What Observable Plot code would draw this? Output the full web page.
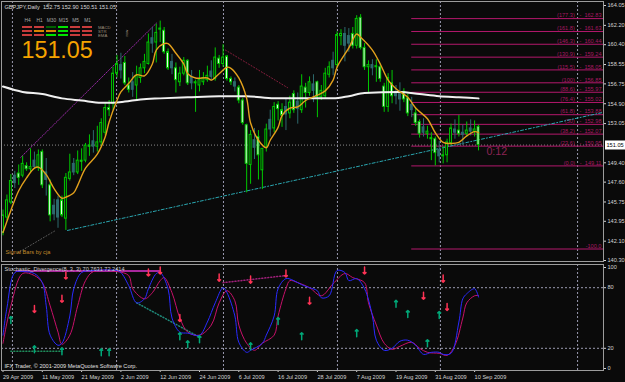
<!DOCTYPE html>
<html><head><meta charset="utf-8">
<script src="https://cdn.jsdelivr.net/npm/d3@7"></script>
<script src="https://cdn.jsdelivr.net/npm/@observablehq/plot@0.6"></script>
<style>
html,body{margin:0;padding:0;background:#0a0a0a;}
#chart{position:relative;width:625px;height:382px;overflow:hidden;background:#0a0a0a;}
#chart svg{position:absolute;left:0;}
</style></head><body><div id="chart"></div>
<script>
// ---------------- data ----------------
const symbol = "GBPJPY";
const timeframe = "Daily";
const opens  = [142.9,144.3,145.7,147.5,148.4,148.2,149.1,148.8,149.0,148.9,150.4,147.8,147.3,144.6,145.9,145.9,144.2,147.9,148.5,148.5,149.6,149.6,151.0,150.9,150.9,151.3,152.2,154.5,154.9,157.7,158.5,158.7,156.6,156.2,156.6,157.3,158.2,158.6,160.5,160.6,161.8,161.7,159.7,158.2,158.2,156.9,157.7,158.9,156.8,156.8,156.6,156.9,157.1,157.4,157.2,159.1,158.6,159.3,157.2,156.9,156.4,155.2,152.9,149.2,151.5,151.8,148.7,150.8,152.5,152.6,154.8,154.3,153.9,154.0,155.8,154.4,154.3,156.4,155.9,156.7,156.9,155.5,155.6,157.6,158.2,158.5,161.2,161.4,160.5,161.4,160.3,162.9,160.1,158.3,158.5,158.3,158.3,156.5,154.6,156.8,155.6,155.8,156.0,155.4,154.3,154.0,153.2,152.2,152.1,151.6,151.6,150.6,150.0,150.1,151.2,152.5,152.4,152.2,152.1,152.3,152.3,152.75];
const highs  = [145.0,146.4,148.3,148.6,149.2,150.0,149.4,150.7,150.4,150.6,150.6,149.8,147.8,146.0,146.3,146.3,148.4,150.2,149.8,150.5,150.7,151.2,152.0,152.4,152.8,153.5,154.9,155.2,158.3,159.4,159.6,159.3,157.3,157.8,158.4,158.6,159.5,161.4,162.0,162.3,162.6,162.0,160.0,159.5,158.7,158.3,159.2,159.0,158.0,157.1,158.0,157.8,158.4,158.9,160.1,159.4,160.4,159.4,157.4,157.3,156.6,155.4,153.0,152.4,152.6,152.4,150.7,153.0,154.3,155.0,155.1,154.9,155.3,155.6,156.1,155.9,157.6,156.8,157.4,157.6,157.0,156.6,158.2,158.8,159.7,161.6,161.8,162.0,161.9,162.0,163.1,163.2,160.5,158.9,159.0,159.0,158.6,156.8,157.7,158.0,156.6,156.85,156.3,155.8,155.5,154.5,153.4,153.5,152.8,152.2,151.8,151.4,150.9,151.6,153.0,153.4,153.8,152.9,153.2,153.4,153.3,152.90];
const lows   = [142.6,144.0,145.5,147.0,147.3,148.0,148.6,148.4,148.8,148.6,147.0,146.3,143.9,144.0,143.3,144.3,143.1,147.7,148.2,148.3,148.6,149.4,150.0,150.3,150.4,150.9,151.9,153.7,154.3,157.3,157.2,156.6,155.9,155.5,155.2,156.8,157.7,158.5,159.6,158.7,160.6,159.5,158.0,157.6,155.9,156.5,157.5,156.6,156.2,154.1,156.0,156.6,156.9,157.0,157.0,158.2,158.3,157.0,156.6,156.0,154.9,152.9,146.6,147.4,149.7,147.8,146.9,150.4,151.8,152.2,153.3,152.7,152.4,153.5,154.0,153.0,154.0,154.5,155.6,155.0,153.6,155.2,155.4,157.3,157.5,158.2,160.3,158.8,159.7,160.0,160.0,159.9,158.0,155.95,157.5,156.9,156.9,154.1,154.1,154.9,154.8,154.2,155.0,153.7,153.6,152.8,151.7,151.8,151.6,149.6,149.11,149.4,149.3,149.4,151.0,151.6,151.8,151.0,151.8,151.9,151.8,150.51];
const closes = [144.5,145.9,147.7,148.2,148.0,149.3,148.8,149.0,149.6,150.1,147.3,148.5,144.5,145.4,144.3,144.5,148.0,148.5,149.3,149.6,149.5,151.0,150.9,151.4,151.3,153.1,154.5,154.3,157.7,158.6,158.0,156.8,156.2,156.9,157.5,158.2,158.8,160.6,161.0,161.5,161.9,159.7,158.2,158.8,157.1,157.7,158.9,156.8,157.4,156.9,157.1,157.3,157.5,157.9,159.2,158.6,159.2,157.2,156.9,156.5,155.2,153.1,149.3,152.0,150.8,150.1,150.7,152.5,153.4,154.6,154.4,153.8,154.6,155.0,154.3,155.1,156.5,155.9,156.9,156.1,155.5,156.1,157.7,158.3,158.9,161.3,161.4,160.3,161.2,160.3,162.8,160.1,158.3,158.5,158.2,158.4,157.2,154.6,157.3,155.6,156.0,155.3,155.3,154.0,154.8,153.1,152.1,152.7,152.3,151.7,150.3,150.0,150.1,151.3,152.6,152.2,152.1,152.0,152.4,152.6,152.5,151.05];
const tealBars = [3,8,11,13,14,18,23,30,33,38,43,48,53,59,64,68,72,75,79,84,87,88,94,100,101,104,107,111,115,117,119];

const maFastBars   = [0,2,4,6,8,9,11,13,15,16,18,19,21,24,26,27,29,30,32,34,36,38,39,41,42,44,46,47,49,52,53,55,57,58,60,62,63,65,67,68,70,71,73,75,77,80,82,84,85,88,90,91,94,96,98,100,103,105,108,110,112,114,116,118,120,121];
const maFastValues = [142.9,144.96,146.8,148.0,148.9,149.0,148.3,147.0,146.1,146.2,146.6,147.3,148.9,150.2,151.8,153.2,155.2,156.0,156.8,157.6,157.5,158.6,159.9,160.5,160.5,159.6,158.6,157.7,157.3,157.3,157.1,157.7,158.3,158.2,157.3,155.4,153.1,151.5,150.8,151.5,152.7,153.8,154.5,154.6,155.2,155.7,156.1,157.1,158.3,160.1,161.4,161.1,159.9,158.6,157.1,156.3,155.5,154.5,153.5,152.2,151.3,151.2,151.3,151.9,152.3,152.2];
const maSlowBars   = [0,5,10,15,20,25,28,31,35,40,47,55,62,69,76,84,88,92,101,106,111,116,121];
const maSlowValues = [156.5,156.0,155.8,155.4,155.2,155.0,155.0,155.1,155.3,155.4,155.5,155.6,155.6,155.4,155.4,155.4,155.6,155.9,156.0,155.8,155.6,155.5,155.4];

const priceTicks = [164.05,162.20,160.40,158.55,156.75,154.90,153.05,149.40,147.60,145.75,143.95,142.10,140.30];
const fibLabels = ["177.3","161.8","146.3","130.9","115.5","100","88.6","76.4","61.8","50","38.2","23.6","0.0"];
const fibPrices = [162.83,161.63,160.44,159.24,158.05,156.85,155.97,155.02,153.88,152.98,152.07,150.95,149.11];
const fibExtLabel = "-100.0";
const fibExtPrice = 141.37;
const fibStartBar = 104;

// drawn price lines: [start, end] bar and price
const priceTrendBars   = [[4.5, 39.3], [56.6, 72.4], [16.4, 152.8], [3.7, 13.4]];
const priceTrendValues = [[149.9, 162.5], [159.9, 156.4], [143.1, 154.1], [141.0, 143.1]];

const monthStartBars = [2.4, 28.9, 56.1, 85.1, 111.3, 146.2];
const dateTickBars = [0,10,20,30,40,50,60,70,80,90,100,110,120];
const dateLabels = ["29 Apr 2009","11 May 2009","21 May 2009","2 Jun 2009","12 Jun 2009","24 Jun 2009","6 Jul 2009","16 Jul 2009","28 Jul 2009","7 Aug 2009","19 Aug 2009","31 Aug 2009","10 Sep 2009"];
const barTimeLeft = "0:12";

// stochastic (8,3,3)
const stochMainBars   = [0,1,3,5,8,10,11,12,14,15,17,18,20,23,29,30,32,34,36,37,39,40,42,43,45,47,50,52,54,56,57,59,60,62,63,66,67,69,70,72,74,76,78,80,81,83,85,87,88,90,92,94,95,97,99,101,103,105,107,109,111,112,114,116,117,118,120,121];
const stochMainValues = [33,60,95,96,94,85,62,33,23,25,52,79,95,97,97,95,82,65,69,79,94,95,79,50,36,35,33,46,65,80,75,52,26,16,18,25,33,52,79,89,87,83,80,77,70,72,97,95,87,89,79,52,28,18,20,27,28,23,14,16,16,14,15,46,69,74,79,70.7631];
const stochSignalBars   = [0,2,5,8,10,12,14,15,17,19,21,23,29,32,33,36,38,40,41,43,45,47,50,53,55,57,59,60,62,64,66,69,70,72,73,75,78,81,84,87,89,92,93,95,97,99,101,104,106,108,111,113,115,117,118,120,121];
const stochSignalValues = [25,62,94,92,85,62,36,24,33,62,87,96,96,92,79,69,75,87,90,75,50,36,33,43,65,77,67,43,25,18,25,33,52,79,87,85,80,72,84,94,90,85,65,43,25,19,22,26,20,16,15,13,23,50,65,72,72.2414];
const stochLevels = [20, 80];
const stochTicks = [0, 20, 80, 100];
const stochTrendBars   = [[3.4, 40], [34, 50], [56, 72], [2, 15]];
const stochTrendValues = [[96.5, 96.5], [65, 31], [85, 92], [17, 17]];
const arrowDownBars   = [8,15,16,37,40,45,55,63,72,78,92,107,112,113];
const arrowDownValues = [59,69,92,95,97,50,90,88,94,67,97,72,89,61];
const arrowUpBars   = [2,8,15,25,27,45,47,50,63,70,76,90,100,103,108,111];
const arrowUpValues = [48,19,17,16,16,32,24,29,22,47,32,35,64,54,25,53];

// signal bars panel
const sigCols = ["H4","H1","M30","M15","M5","M1"];
const sigRows = ["MACD","STR","EMA"];
const sigStates = [
  ["down","down","weak","up","down","down"],
  ["down","flat","flat","up","down","down"],
  ["down","down","up","up","down","down"]
];

// ---------------- drawing ----------------
const font = "'Liberation Sans', Arial, sans-serif";
const fs = 5.6;
const W = 625, axisW = 22, x0 = 2.5, barSpacing = 3.93;
const n = opens.length;
const xScale = {type: "linear", domain: [0, n - 1], range: [x0, x0 + barSpacing * (n - 1)], axis: null};
const frameEndBar = (W - axisW - x0) / barSpacing;   // bar position of the plot's right edge
const bid = closes[n - 1];
const gridStroke = "#9a9ab0";

const candles = opens.map((o, i) => ({
  i, o, h: highs[i], l: lows[i], c: closes[i],
  kind: tealBars.includes(i) ? "teal" : (closes[i] >= o ? "bull" : "bear")
}));
const kindStroke = {bull: "#00c800", bear: "#00c800", teal: "#2e6a6e"};
const kindFill = {bull: "#0a0a0a", bear: "#ffffff", teal: "#2e6a6e"};
const trendStyles = [
  {stroke: "#9a2aa8", strokeDasharray: "1,1.5", strokeWidth: 1},
  {stroke: "#8a1f3f", strokeDasharray: "1,2", strokeWidth: 1},
  {stroke: "#2aa6b0", strokeDasharray: "3,2,1,2", strokeWidth: 1},
  {stroke: "#5a5a5a", strokeDasharray: "1,2", strokeWidth: 1}
];
const header = `${symbol},${timeframe}\u00a0\u00a0${opens[n-1].toFixed(2)} ${highs[n-1].toFixed(2)} ${lows[n-1].toFixed(2)} ${closes[n-1].toFixed(2)}`;

const main = Plot.plot({
  width: W, height: 262,
  marginLeft: 1, marginRight: axisW, marginTop: 1, marginBottom: 1,
  style: {background: "transparent", fontFamily: font, overflow: "hidden", color: "#d4d4d4"},
  x: xScale,
  y: {domain: [140.30, 164.05], range: [260, 5], axis: null},
  color: {type: "identity"},
  marks: [
    Plot.ruleX(monthStartBars, {stroke: gridStroke, strokeDasharray: "2,2"}),
    Plot.ruleY([bid], {stroke: "#8c8c8c", strokeDasharray: "1,2"}),
    Plot.ruleY(fibPrices, {x1: () => fibStartBar, x2: () => frameEndBar, stroke: "#b4186c"}),
    Plot.ruleY([fibExtPrice], {x1: () => fibStartBar, x2: () => frameEndBar, stroke: "#b4186c"}),
    Plot.text(fibPrices, {y: d => d, frameAnchor: "right", dx: -2, dy: -3, textAnchor: "end", lineAnchor: "middle",
      text: (d, i) => `(${fibLabels[i]})\u00a0\u00a0\u00a0-\u00a0\u00a0${d.toFixed(2)}`, fill: "#a81862", fontSize: fs}),
    Plot.text([fibExtPrice], {y: d => d, frameAnchor: "right", dx: -2, dy: -3, textAnchor: "end", lineAnchor: "middle",
      text: () => fibExtLabel, fill: "#a81862", fontSize: fs}),
    ...priceTrendBars.map((bs, k) => Plot.line(bs.map((b, j) => [b, priceTrendValues[k][j]]), trendStyles[k])),
    Plot.ruleX(candles, {x: "i", y1: "l", y2: "h", stroke: d => kindStroke[d.kind]}),
    Plot.rect(candles, {x1: d => d.i - 0.24, x2: d => d.i + 0.24, y1: "o", y2: "c",
      fill: d => kindFill[d.kind], stroke: d => kindStroke[d.kind], strokeWidth: 1}),
    Plot.line(maSlowBars, {x: d => d, y: (d, i) => maSlowValues[i], stroke: "#f0f0f0", strokeWidth: 2, curve: "monotone-x"}),
    Plot.line(maFastBars, {x: d => d, y: (d, i) => maFastValues[i], stroke: "#e3a11c", strokeWidth: 1.4, curve: "catmull-rom"}),
    Plot.text([header], {frameAnchor: "top-left", dx: 3, dy: 5.3, textAnchor: "start", lineAnchor: "middle", fill: "#d8d8d8", fontSize: fs}),
    Plot.text([bid], {frameAnchor: "top-left", dx: 20, dy: 49, textAnchor: "start", lineAnchor: "middle",
      text: d => d.toFixed(2), fill: "#f5a300", fontSize: 23.3}),
    Plot.text(["Signal Bars by cja"], {frameAnchor: "bottom-left", dx: 4, dy: -9.7, textAnchor: "start", lineAnchor: "middle", fill: "#c08a2a", fontSize: fs}),
    Plot.text([barTimeLeft], {x: () => n + 1, y: () => bid, dy: 6, textAnchor: "start", lineAnchor: "middle", fill: "#8c2455", fontSize: 10.7}),
    Plot.axisY({anchor: "right", ticks: priceTicks, tickFormat: d => d.toFixed(2), tickSize: 2, tickPadding: 2, fontSize: fs, color: "#d4d4d4"}),
    Plot.frame({stroke: "#9c9c9c"}),
    Plot.ruleY([bid], {stroke: "#ffffff", strokeWidth: 9, dx: 604}),
    Plot.text([bid], {y: d => d, frameAnchor: "right", dx: 3, textAnchor: "start", lineAnchor: "middle",
      text: d => d.toFixed(2), fill: "#000000", fontSize: fs})
  ]
});

const stoch = Plot.plot({
  width: W, height: 120,
  marginLeft: 1, marginRight: axisW, marginTop: 2, marginBottom: 12,
  style: {background: "transparent", fontFamily: font, overflow: "hidden", color: "#d4d4d4"},
  x: xScale,
  y: {domain: [0, 100], range: [106, 5], axis: null},
  marks: [
    Plot.ruleX(monthStartBars, {stroke: gridStroke, strokeDasharray: "2,2"}),
    Plot.ruleY(stochLevels, {stroke: gridStroke, strokeDasharray: "2,2"}),
    Plot.line(stochTrendBars[0].map((b, j) => [b, stochTrendValues[0][j]]), {stroke: "#a8289c", strokeWidth: 2}),
    Plot.line(stochTrendBars[1].map((b, j) => [b, stochTrendValues[1][j]]), {stroke: "#1f8a7a", strokeDasharray: "1,2"}),
    Plot.line(stochTrendBars[2].map((b, j) => [b, stochTrendValues[2][j]]), {stroke: "#a0207a", strokeDasharray: "1,2"}),
    Plot.line(stochTrendBars[3].map((b, j) => [b, stochTrendValues[3][j]]), {stroke: "#1f8a5a", strokeDasharray: "1,2"}),
    Plot.line(stochSignalBars, {x: d => d, y: (d, i) => stochSignalValues[i], stroke: "#c8106a", strokeWidth: 1, curve: "catmull-rom"}),
    Plot.line(stochMainBars, {x: d => d, y: (d, i) => stochMainValues[i], stroke: "#2a2aff", strokeWidth: 1, curve: "catmull-rom"}),
    Plot.vector(arrowDownBars, {x: d => d, y: (d, i) => arrowDownValues[i], length: 7, rotate: 180, anchor: "middle", stroke: "#ff3355", strokeWidth: 1.5}),
    Plot.vector(arrowUpBars, {x: d => d, y: (d, i) => arrowUpValues[i], length: 7, rotate: 0, anchor: "middle", stroke: "#00a878", strokeWidth: 1.5}),
    Plot.text([`Stochastic_Divergence(8, 3, 3) ${stochMainValues.at(-1).toFixed(4)} ${stochSignalValues.at(-1).toFixed(4)}`],
      {frameAnchor: "top-left", dx: 3, dy: 5, textAnchor: "start", lineAnchor: "middle", fill: "#cfcfcf", fontSize: fs}),
    Plot.text(["IFX Trader, \u00a9 2001-2009 MetaQuotes Software Corp."],
      {frameAnchor: "bottom-left", dx: 3, dy: -4.5, textAnchor: "start", lineAnchor: "middle", fill: "#e0e0e0", fontSize: fs}),
    Plot.axisY({anchor: "right", ticks: stochTicks, tickFormat: d => String(d), tickSize: 2, tickPadding: 2, fontSize: fs, color: "#d4d4d4"}),
    Plot.axisX({anchor: "bottom", ticks: dateTickBars, tickFormat: d => dateLabels[dateTickBars.indexOf(d)], textAnchor: "start",
      tickSize: 2, tickPadding: 3, fontSize: fs, color: "#d4d4d4"}),
    Plot.frame({stroke: "#9c9c9c"})
  ]
});

const grid = [];
sigRows.forEach((r, ri) => sigCols.forEach((c, ci) => grid.push({tf: c, row: r, s: sigStates[ri][ci]})));
const signals = Plot.plot({
  width: 130, height: 42,
  marginLeft: 0, marginRight: 35, marginTop: 23, marginBottom: 0,
  style: {background: "transparent", fontFamily: font, overflow: "visible"},
  x: {type: "band", domain: sigCols, range: [19.5, 95.5], padding: 0.15, axis: null},
  y: {type: "band", domain: sigRows, range: [22.7, 39.3], padding: 0.45, axis: null},
  color: {type: "ordinal", domain: ["down", "up", "weak", "flat"], range: ["#c83c3c", "#00e400", "#006000", "#d88400"]},
  marks: [
    Plot.cell(grid, {x: "tf", y: "row", fill: "s", inset: 0}),
    Plot.axisX({anchor: "top", tickSize: 0, tickPadding: 2, fontSize: 4.8, color: "#a8a8a8"}),
    Plot.axisY({anchor: "right", tickSize: 0, tickPadding: 2.5, fontSize: 4.3, color: "#9a8a78", textAnchor: "start"})
  ]
});

const chart = document.getElementById("chart");
main.style.top = "0px";
stoch.style.top = "262px";
signals.style.top = "0px";
chart.append(main, stoch, signals);
</script>
</body></html>
